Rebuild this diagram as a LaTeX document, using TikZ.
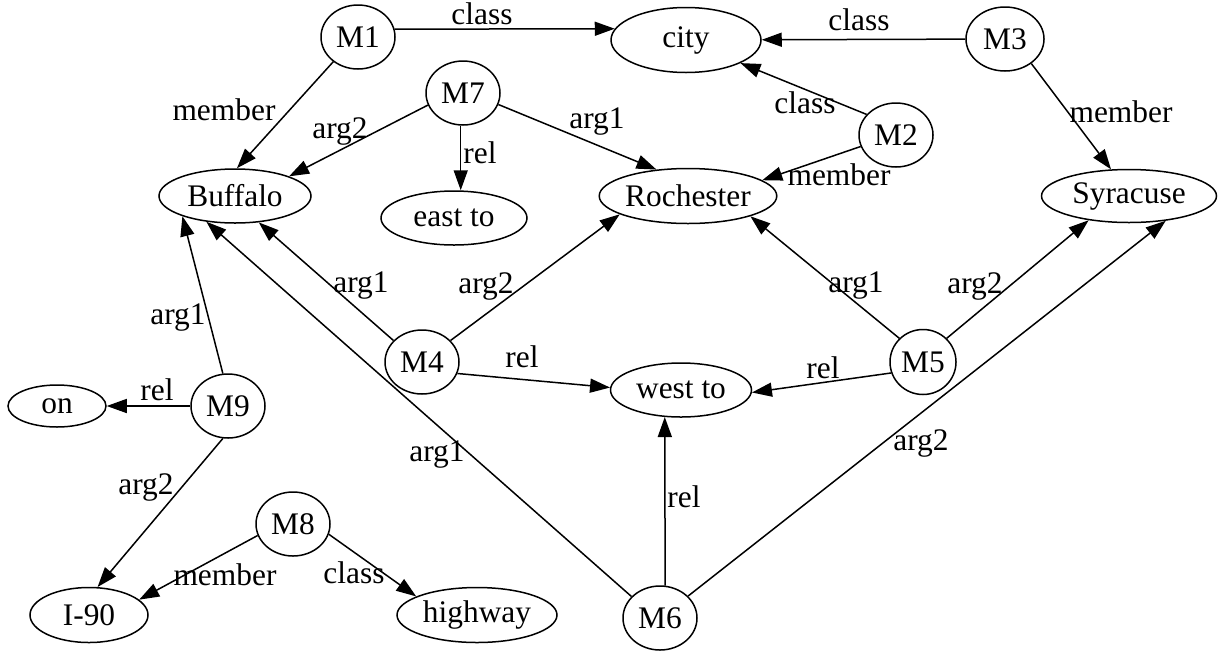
\documentclass[tikz,border=0pt]{standalone}
\usepackage{fontspec}
\setmainfont{Liberation Serif}
\usetikzlibrary{shapes.geometric,arrows.meta}

\tikzset{
  mnode/.style={draw,ellipse,line width=1.5pt,inner sep=0pt,minimum width=74pt,minimum height=64pt},
  wnode/.style={draw,ellipse,line width=1.5pt,inner sep=0pt,minimum height=54pt},
  arc/.style={-{Triangle[length=20pt,width=14pt]},line width=1.5pt},
  lbl/.style={inner sep=0pt}
}

\begin{document}
\begin{tikzpicture}[x=1pt,y=-1pt,font=\fontsize{31.4pt}{36pt}\selectfont]
\useasboundingbox (0,0) rectangle (1222,654);

% Molecular nodes
\node[mnode] (M1) at (358,37) {M1};
\node[mnode] (M2) at (896,135) {M2};
\node[mnode,minimum width=78pt] (M3) at (1005,39) {M3};
\node[mnode] (M4) at (422,362) {M4};
\node[mnode,minimum width=66pt,minimum height=65pt] (M5) at (923,362) {M5};
\node[mnode] (M6) at (660,618) {M6};
\node[mnode] (M7) at (463,93) {M7};
\node[mnode] (M8) at (293,524) {M8};
\node[mnode] (M9) at (228,406) {M9};

% Base nodes
\node[wnode,minimum width=150pt,minimum height=65pt] (city) at (686,40) {city};
\node[wnode,minimum width=152pt] (Buffalo) at (235,196) {Buffalo};
\node[wnode,minimum width=146pt] (eastto) at (454,218) {east to};
\node[wnode,minimum width=176pt,minimum height=55pt] (Rochester) at (688,196) {Rochester};
\node[wnode,minimum width=175pt,minimum height=53pt] (Syracuse) at (1129,196) {Syracuse};
\node[wnode,minimum width=141pt] (westto) at (681,390) {west to};
\node[wnode,minimum width=98pt,minimum height=42pt] (on) at (57,406) {on};
\node[wnode,minimum width=118pt,minimum height=55pt] (I90) at (89,615) {I-90};
\node[wnode,minimum width=160pt,minimum height=55pt] (highway) at (477,615) {highway};

% class / member
\draw[arc] (M1.12) -- (city.171);
\draw (482,14) node[lbl]{class};
\draw[arc] (M3) -- (city);
\draw (859,20) node[lbl]{class};
\draw[arc] (M2.145) -- (city.-23);
\draw (805,103) node[lbl]{class};
\draw[arc] (M2.198) -- (Rochester.12);
\draw (839,175) node[lbl]{member};
\draw[arc] (M3.-43) -- (Syracuse.124);
\draw (1121,112) node[lbl]{member};
\draw[arc] (M1.-135) -- (Buffalo.86);
\draw (224,110) node[lbl]{member};
\draw[arc] (M8.198) -- (I90.17);
\draw (225,575) node[lbl]{member};
\draw[arc] (M8.-16) -- (highway.163);
\draw (354,573) node[lbl]{class};

% M7: east to
\draw[arc] (M7.199) -- (Buffalo.20);
\draw (340,131) node[lbl]{arg2};
\draw[arc] (M7.-18) -- (Rochester.140);
\draw (597,122) node[lbl]{arg1};
\draw[arc] (M7.-94) -- (eastto.north -| M7.-94);
\draw (480,153) node[lbl]{rel};

% M4: west to
\draw[arc] (M4.143) -- (Buffalo.-48);
\draw (361,286) node[lbl]{arg1};
\draw[arc] (M4.37) -- (Rochester.195);
\draw (486,286) node[lbl]{arg2};
\draw[arc] (M4.-18) -- (westto.178);
\draw (522,357) node[lbl]{rel};

% M5: west to
\draw[arc] (M5.135) -- (Rochester.-18);
\draw (856,286) node[lbl]{arg1};
\draw[arc] (M5.45) -- (Syracuse.211);
\draw (975,286) node[lbl]{arg2};
\draw[arc] (M5.199) -- (westto.-2);
\draw (823,368) node[lbl]{rel};

% M6: west to
\draw[arc] (M6.143) -- (Buffalo.222);
\draw (437,455) node[lbl]{arg1};
\draw[arc] (M6.38) -- (Syracuse.-34);
\draw (921,443) node[lbl]{arg2};
\draw[arc] (M6.81) -- (westto.-121);
\draw (684,497) node[lbl]{rel};

% M9: on
\draw[arc] (M9.99) -- (Buffalo.201);
\draw (178,318) node[lbl]{arg1};
\draw[arc] (M9) -- (on);
\draw (157,390) node[lbl]{rel};
\draw[arc] (M9.-99) -- (I90.73);
\draw (146,487) node[lbl]{arg2};
\end{tikzpicture}
\end{document}
